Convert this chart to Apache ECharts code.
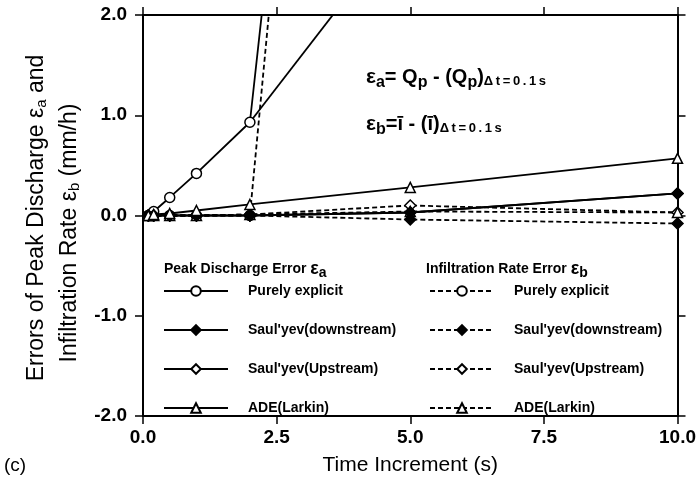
<!DOCTYPE html>
<html>
<head>
<meta charset="utf-8">
<script src="https://cdn.jsdelivr.net/npm/echarts@6/dist/echarts.min.js"></script>
<style>
  html, body { margin: 0; padding: 0; background: #fff; }
  #chart { width: 699px; height: 485px; }
</style>
</head>
<body>
<div id="chart"></div>
<script>
// Time increments (s)
const dt = [0.1, 0.2, 0.5, 1, 2, 5, 10];

// Peak discharge error εa (solid lines)
const explicitA = [0, 0.04, 0.18, 0.42, 0.93, 15.5, null];
const downstreamA = [0, 0, 0, 0, 0, 0.03, 0.22];
const upstreamA = [0, 0, 0, 0, 0, 0.03, 0.22];
const adeA = [0, 0.01, 0.02, 0.05, 0.11, 0.28, 0.57];

// Second solid branch of the purely explicit scheme
const branchDt = [2, 5];
const branchA = [0.93, 3.0];

// Infiltration rate error εb (dashed lines)
const explicitB = [0, 0, 0, 0, 0, 17, null];
const downstreamB = [0, 0, 0, 0, 0, -0.04, -0.08];
const upstreamB = [0, 0, 0, 0, 0.01, 0.10, 0.03];
const adeB = [0, 0, 0, 0, 0.01, 0.04, 0.03];

const xTicks = [0, 2.5, 5, 7.5, 10];
const yTicks = [-2, -1, 0, 1, 2];

const FONT = '"Liberation Sans", Arial, Helvetica, sans-serif';
const THIN = '\u2009';

function pairs(xs, ys) {
  return xs.map((x, i) => [x, ys[i]]);
}

const symbolDefs = {
  explicit:   { symbol: 'circle',   fill: '#fff', size: 10 },
  downstream: { symbol: 'diamond',  fill: '#000', size: 11 },
  upstream:   { symbol: 'diamond',  fill: '#fff', size: 11 },
  ade:        { symbol: 'triangle', fill: '#fff', size: 10 }
};

function makeSeries(name, key, ys, dashed) {
  const s = symbolDefs[key];
  return {
    name: name,
    type: 'line',
    data: pairs(dt, ys),
    symbol: s.symbol,
    symbolSize: s.size,
    showSymbol: true,
    clip: true,
    lineStyle: { color: '#000', width: 1.8, type: dashed ? [5, 3] : 'solid' },
    itemStyle: { color: s.fill, borderColor: '#000', borderWidth: 1.5 },
    emphasis: { disabled: true },
    animation: false
  };
}

const seriesList = [
  {
    name: 'branch',
    type: 'line',
    data: pairs(branchDt, branchA),
    symbol: 'none',
    lineStyle: { color: '#000', width: 1.8 },
    clip: true,
    animation: false
  },
  makeSeries('Purely explicit|b', 'explicit', explicitB, true),
  makeSeries('Saul\'yev(downstream)|b', 'downstream', downstreamB, true),
  makeSeries('Saul\'yev(Upstream)|b', 'upstream', upstreamB, true),
  makeSeries('ADE(Larkin)|b', 'ade', adeB, true),
  makeSeries('Purely explicit|a', 'explicit', explicitA, false),
  makeSeries('Saul\'yev(Upstream)|a', 'upstream', upstreamA, false),
  makeSeries('Saul\'yev(downstream)|a', 'downstream', downstreamA, false),
  makeSeries('ADE(Larkin)|a', 'ade', adeA, false)
];

const legendText = {
  fontFamily: FONT, fontSize: 14, fontWeight: 'bold', color: '#000',
  padding: [0, 0, 0, 15]
};

function legendFor(col, left) {
  return {
    orient: 'vertical',
    left: left,
    top: 279,
    itemWidth: 64,
    itemHeight: 12,
    itemGap: 25,
    selectedMode: false,
    data: ['Purely explicit|' + col, 'Saul\'yev(downstream)|' + col,
           'Saul\'yev(Upstream)|' + col, 'ADE(Larkin)|' + col],
    formatter: n => n.split('|')[0],
    textStyle: legendText
  };
}

const sub = (size, pad) => ({ fontFamily: FONT, fontSize: size, fontWeight: 'bold', color: '#000', padding: [pad, 0, 0, 0] });

function frameAxis(extra) {
  return Object.assign({
    type: 'value',
    axisLine: { show: true, onZero: false, lineStyle: { color: '#000', width: 2 } },
    axisTick: { show: true, inside: false, length: 8, lineStyle: { color: '#000', width: 1.5 } },
    splitLine: { show: false }
  }, extra);
}

const tickLabel = {
  color: '#000', fontFamily: FONT, fontSize: 19, fontWeight: 'bold'
};

const deltaSub = ['Δ', 't', '=', '0', '.', '1', 's'].join(THIN);

const option = {
  backgroundColor: '#fff',
  animation: false,
  grid: { left: 143, right: 17, top: 15, bottom: 69, containLabel: false },
  xAxis: [
    frameAxis({
      min: 0, max: 10, interval: 2.5, position: 'bottom',
      axisLabel: Object.assign({
        margin: 12, formatter: v => xTicks.includes(v) ? v.toFixed(1) : ''
      }, tickLabel),
      name: 'Time Increment (s)', nameLocation: 'middle', nameGap: 39,
      nameTextStyle: { color: '#000', fontFamily: FONT, fontSize: 21 }
    }),
    frameAxis({
      min: 0, max: 10, interval: 2.5, position: 'top',
      axisLabel: { show: false }
    })
  ],
  yAxis: [
    frameAxis({
      min: -2, max: 2, interval: 1, position: 'left',
      axisLabel: Object.assign({
        margin: 16, formatter: v => yTicks.includes(v) ? v.toFixed(1) : ''
      }, tickLabel)
    }),
    frameAxis({
      min: -2, max: 2, interval: 1, position: 'right',
      axisLabel: { show: false }
    })
  ],
  legend: [legendFor('a', 158), legendFor('b', 424)],
  series: seriesList,
  graphic: [
    // legend column headings
    {
      type: 'text', left: 164, top: 260,
      style: {
        text: '{t|Peak Discharge Error }{e|ε}{s|a}',
        rich: {
          t: { fontFamily: FONT, fontSize: 14, fontWeight: 'bold', color: '#000' },
          e: { fontFamily: FONT, fontSize: 18, fontWeight: 'bold', color: '#000' },
          s: sub(14, 8)
        }
      }
    },
    {
      type: 'text', left: 426, top: 260,
      style: {
        text: '{t|Infiltration Rate Error }{e|ε}{s|b}',
        rich: {
          t: { fontFamily: FONT, fontSize: 14, fontWeight: 'bold', color: '#000' },
          e: { fontFamily: FONT, fontSize: 18, fontWeight: 'bold', color: '#000' },
          s: sub(14, 8)
        }
      }
    },
    // error definitions
    {
      type: 'text', left: 366, top: 67,
      style: {
        text: '{e|ε}{s|a}{m|= Q}{s|p}{m| - (Q}{s|p}{m|)}{d|' + deltaSub + '}',
        rich: {
          e: { fontFamily: FONT, fontSize: 21, fontWeight: 'bold', color: '#000' },
          m: { fontFamily: FONT, fontSize: 20, fontWeight: 'bold', color: '#000' },
          s: sub(16, 10),
          d: sub(13, 8)
        }
      }
    },
    {
      type: 'text', left: 366, top: 114,
      style: {
        text: '{e|ε}{s|b}{m|=ī - (ī)}{d|' + deltaSub + '}',
        rich: {
          e: { fontFamily: FONT, fontSize: 21, fontWeight: 'bold', color: '#000' },
          m: { fontFamily: FONT, fontSize: 20, fontWeight: 'bold', color: '#000' },
          s: sub(16, 10),
          d: sub(13, 8)
        }
      }
    },
    // y axis title, two rotated lines
    {
      type: 'text', x: 37, y: 218, rotation: Math.PI / 2,
      style: {
        text: '{t|Errors of Peak Discharge ε}{s|a}{t| and}',
        align: 'center', verticalAlign: 'middle',
        rich: {
          t: { fontFamily: FONT, fontSize: 23, color: '#000' },
          s: { fontFamily: FONT, fontSize: 15, color: '#000', padding: [9, 0, 0, 0] }
        }
      }
    },
    {
      type: 'text', x: 70, y: 233, rotation: Math.PI / 2,
      style: {
        text: '{t|Infiltration Rate ε}{s|b}{t| (mm/h)}',
        align: 'center', verticalAlign: 'middle',
        rich: {
          t: { fontFamily: FONT, fontSize: 23, color: '#000' },
          s: { fontFamily: FONT, fontSize: 15, color: '#000', padding: [9, 0, 0, 0] }
        }
      }
    },
    {
      type: 'text', left: 4, top: 456,
      style: { text: '(c)', fontFamily: FONT, fontSize: 19, fill: '#000' }
    }
  ]
};

const chart = echarts.init(document.getElementById('chart'), null, { renderer: 'canvas' });
chart.setOption(option);
</script>
</body>
</html>
